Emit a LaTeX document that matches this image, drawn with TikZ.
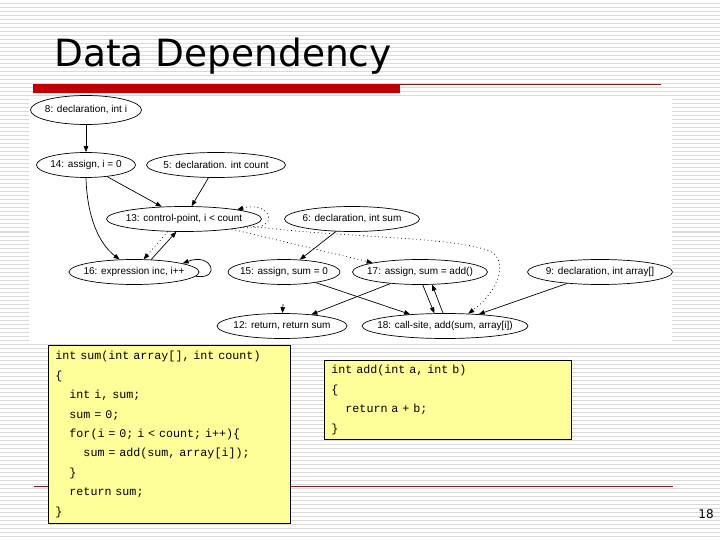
\documentclass[tikz,border=0pt]{standalone}
\usepackage{fontspec}
\setmainfont{Liberation Sans}
\setmonofont{Liberation Mono}
\newfontfamily\titlefont{DejaVu Sans}
\usepackage{tikz}
\usetikzlibrary{shapes.geometric,arrows.meta}
\definecolor{barred}{RGB}{192,0,0}
\definecolor{linered}{RGB}{128,32,32}
\definecolor{stripe}{RGB}{218,218,218}
\definecolor{codefill}{RGB}{255,255,153}

\begin{document}
\begin{tikzpicture}[x=1pt,y=-1pt,
  dnode/.style={ellipse,draw,line width=0.7pt,inner xsep=-10pt,inner ysep=0pt,minimum height=25pt,font=\fontsize{10}{12}\selectfont},
  dep/.style={line width=0.7pt,-{Triangle[length=6pt,width=4.5pt]}},
  ctl/.style={dep,dash pattern=on 0.8pt off 3pt},
  codebox/.style={draw,fill=codefill,line width=0.8pt,anchor=north west,align=left,inner xsep=7pt,inner ysep=0pt,font=\ttfamily\fontsize{11.7}{19.4}\selectfont}]
\useasboundingbox (0,0) rectangle (720,540);
\fill[white] (0,0) rectangle (720,540);
\foreach \y in {0,4,...,540} \draw[stripe,line width=1pt] (0,\y) -- (720,\y);
\fill[white] (29,96) rectangle (672,342);
% title and rules
\node[anchor=base west,inner sep=0pt,font=\titlefont\fontsize{37.5}{45}\selectfont] (title) at (54,67) {Data Dependency};
\fill[barred] (33,84) rectangle (400,93);
\draw[linered,line width=1.5pt] (400,84.5) -- (661,84.5);
\draw[linered,line width=1.5pt] (34,486.5) -- (673,486.5);
% graph
\node[dnode,minimum width=111pt,minimum height=29pt] (n8) at (86,110) {8: declaration, int i};
\node[dnode,minimum width=99pt] (n14) at (86,165) {14: assign, i = 0};
\node[dnode,minimum width=139pt] (n5) at (216,165) {5: declaration. int count};
\node[dnode,minimum width=155pt] (n13) at (184,219) {13: control-point, i < count};
\node[dnode,minimum width=135pt] (n6) at (352,219) {6: declaration, int sum};
\node[dnode,minimum width=130pt] (n16) at (134,272) {16: expression inc, i++};
\node[dnode,minimum width=112pt] (n15) at (284,272) {15: assign, sum = 0};
\node[dnode,minimum width=135pt] (n17) at (420,272) {17: assign, sum = add()};
\node[dnode,minimum width=145pt] (n9) at (600,272) {9: declaration, int array[]};
\node[dnode,minimum width=130pt] (n12) at (282,326) {12: return, return sum};
\node[dnode,minimum width=166pt] (n18) at (445,326) {18: call-site, add(sum, array[i])};
\coordinate (s12) at (283,304);
\draw[dep] (n8) -- (n14);
\draw[dep] (n14) -- (n13);
\draw[dep] (n5) -- (n13);
\draw[dep] (n14.-90) .. controls (87,215) and (98,243) .. (n16.139);
\draw[dep] (n16.36) -- (n13.239);
\draw[ctl] (n13.218) -- (n16.53);
\draw[dep] (n16.-4) .. controls (222,280) and (212,252) .. (n16.10);
\draw[ctl] (n13.-8) .. controls (282,232) and (272,200) .. (n13.10);
\draw[ctl] (n13.-12) -- (n17.169);
\draw[ctl] (n13.-6) .. controls (340,238) and (445,236) .. (487,250) .. controls (510,258) and (500,290) .. (n18.28);
\draw[dep] (n6) -- (n15);
\draw[dep] (n15) -- (n18);
\draw[dep] (n17) -- (n12);
\draw[dep] (n9) -- (n18);
\draw[dep] (n17.-78) -- (n18.130);
\draw[dep] (n18.99) -- (n17.-46);
\draw[dep] (s12) -- (n12.88);
% code
\node[codebox,minimum height=178pt,text width=228pt] (code1) at (48,345) {int sum(int array[], int count)\\
\{\\
\phantom{xx}int i, sum;\\
\phantom{xx}sum = 0;\\
\phantom{xx}for(i = 0; i < count; i++)\{\\
\phantom{xxxx}sum = add(sum, array[i]);\\
\phantom{xx}\}\\
\phantom{xx}return sum;\\
\}};
\node[codebox,minimum height=79pt,text width=233pt] (code2) at (324,360) {int add(int a, int b)\\
\{\\
\phantom{xx}return a + b;\\
\}};
\node[anchor=base,inner sep=0pt,font=\titlefont\fontsize{12}{14}\selectfont] (page) at (706,518) {18};
\end{tikzpicture}
\end{document}
